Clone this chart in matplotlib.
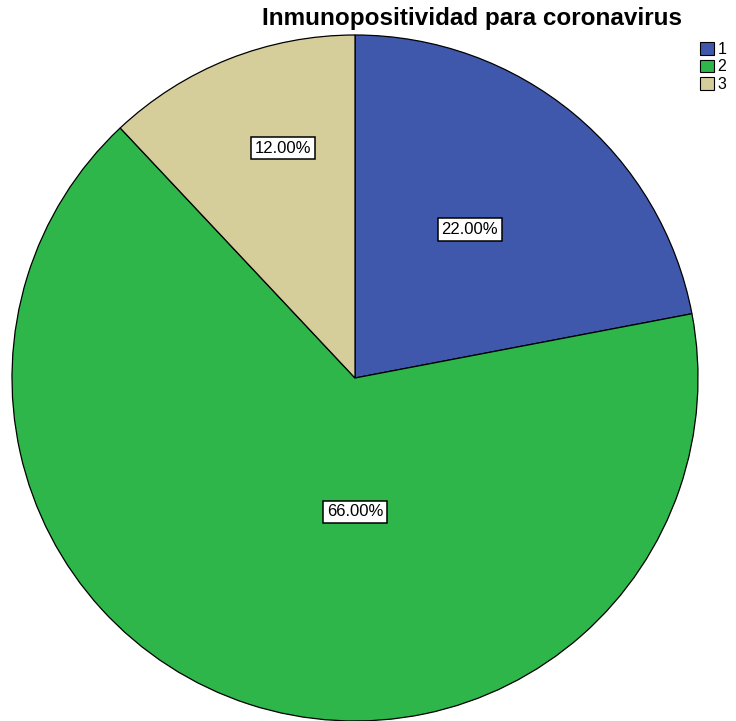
import matplotlib.pyplot as plt
from matplotlib.patches import Patch

categories = ["1", "2", "3"]
shares = [22.0, 66.0, 12.0]
colors = ["#3F58AC", "#2EB64A", "#D5CD9A"]
title = "Inmunopositividad para coronavirus"

plt.rcParams['font.family'] = ['Liberation Sans', 'DejaVu Sans']

fig = plt.figure(figsize=(7.36, 7.21), dpi=100)
ax = fig.add_axes([12 / 736, 0 / 721, 686 / 736, 686 / 721])

wedges, _ = ax.pie(shares, colors=colors, startangle=90, counterclock=False,
                   radius=1.0, wedgeprops=dict(edgecolor="black", linewidth=0.9))
for w in wedges:
    w.set_clip_on(False)
ax.set_xlim(-1, 1)
ax.set_ylim(-1, 1)
ax.set_aspect("equal")
ax.axis("off")

# label positions (in data units of the pie) per slice
label_pos = [(0.335, 0.433), (0.0, -0.39), (-0.21, 0.67)]
for v, (x, y) in zip(shares, label_pos):
    ax.text(x, y, f"{v:.2f}%", ha="center", va="center", fontsize=12,
            bbox=dict(boxstyle="square,pad=0.22", facecolor="white",
                      edgecolor="black", linewidth=1.1))

fig.text(0.641, 0.975, title, ha="center", va="center", fontsize=17.5, fontweight="bold")

handles = [Patch(facecolor=c, edgecolor="black", linewidth=0.8) for c in colors]
fig.legend(handles, categories, loc="upper right", bbox_to_anchor=(1.0, 0.955),
           frameon=False, fontsize=11.5, handlelength=0.85, handleheight=0.85,
           handletextpad=0.25, labelspacing=0.15, borderaxespad=0.2)

fig.savefig("out.png", dpi=100)
